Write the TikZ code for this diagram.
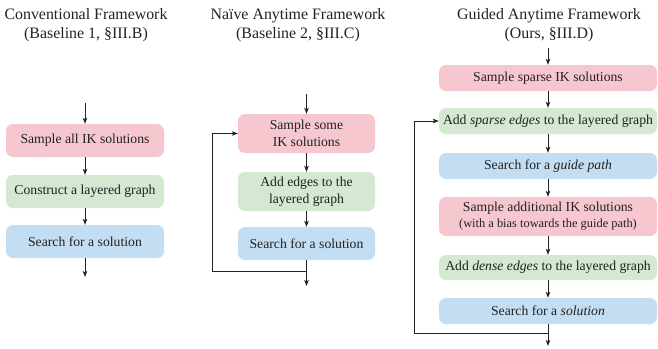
\documentclass[tikz,border=0pt]{standalone}
\usepackage{fontspec}
\setmainfont{Liberation Serif}
\usetikzlibrary{arrows.meta}
\definecolor{pinkbox}{HTML}{F7C7D0}
\definecolor{greenbox}{HTML}{D4E8D2}
\definecolor{bluebox}{HTML}{C3DEF3}
\definecolor{ink}{HTML}{222222}
\begin{document}
\begin{tikzpicture}[x=1pt,y=-1pt,
  box/.style={rounded corners=7pt, inner sep=0pt, align=center, text=ink,
    font=\fontsize{13.7}{17}\selectfont},
  pbox/.style={box, fill=pinkbox},
  gbox/.style={box, fill=greenbox},
  bbox/.style={box, fill=bluebox},
  title/.style={align=center, text=ink, font=\fontsize{15.9}{19}\selectfont},
  arr/.style={draw=ink, line width=0.8pt, -{Stealth[length=6pt,width=4.5pt,inset=1.5pt]}},
  ln/.style={draw=ink, line width=0.8pt}]
\useasboundingbox (0,0) rectangle (658,348);

% Column 1
\node[title] (t1) at (86,25.5) {Conventional Framework\\(Baseline 1, \S III.B)};
\node[pbox, minimum width=158pt, minimum height=33pt] (a1) at (85,140.5) {Sample all IK solutions};
\node[gbox, minimum width=158pt, minimum height=33pt] (a2) at (85,191.5) {Construct a layered graph};
\node[bbox, minimum width=158pt, minimum height=33pt] (a3) at (85,241.5) {Search for a solution};
\coordinate (a0) at (85,103);
\coordinate (a4) at (85,277);
\draw[arr] (a0) -- (a1.north);
\draw[arr] (a1.south) -- (a2.north);
\draw[arr] (a2.south) -- (a3.north);
\draw[arr] (a3.south) -- (a4);

% Column 2
\node[title] (t2) at (298,25.5) {Naïve Anytime Framework\\(Baseline 2, \S III.C)};
\node[pbox, minimum width=137pt, minimum height=39pt] (b1) at (306.5,133.5) {Sample some\\IK solutions};
\node[gbox, minimum width=137pt, minimum height=39pt] (b2) at (306.5,191.5) {Add edges to the\\layered graph};
\node[bbox, minimum width=137pt, minimum height=33pt] (b3) at (306.5,243.5) {Search for a solution};
\coordinate (b0) at (306.5,94);
\coordinate (b4) at (306.5,286);
\coordinate (bl) at (306.5,271);
\coordinate (bk) at (212,271);
\draw[arr] (b0) -- (b1.north);
\draw[arr] (b1.south) -- (b2.north);
\draw[arr] (b2.south) -- (b3.north);
\draw[arr] (b3.south) -- (b4);
\draw[arr] (bl) -- (bk) |- (b1.west);

% Column 3
\node[title] (t3) at (549,25.5) {Guided Anytime Framework\\(Ours, \S III.D)};
\node[pbox, minimum width=218pt, minimum height=26pt] (c1) at (548,78) {Sample sparse IK solutions};
\node[gbox, minimum width=218pt, minimum height=26pt] (c2) at (548,121) {Add \textit{sparse edges} to the layered graph};
\node[bbox, minimum width=218pt, minimum height=26pt] (c3) at (548,166) {Search for a \textit{guide path}};
\node[pbox, minimum width=218pt, minimum height=39pt] (c4) at (548,216.5) {Sample additional IK solutions\\[-1pt]{\fontsize{12.4}{15}\selectfont (with a bias towards the guide path)}};
\node[gbox, minimum width=218pt, minimum height=25pt] (c5) at (548,267.5) {Add \textit{dense edges} to the layered graph};
\node[bbox, minimum width=218pt, minimum height=26pt] (c6) at (548,311) {Search for a \textit{solution}};
\coordinate (c0) at (548,48);
\coordinate (c7) at (548,346);
\coordinate (cl) at (548,333);
\coordinate (ck) at (414,333);
\draw[arr] (c0) -- (c1.north);
\draw[arr] (c1.south) -- (c2.north);
\draw[arr] (c2.south) -- (c3.north);
\draw[arr] (c3.south) -- (c4.north);
\draw[arr] (c4.south) -- (c5.north);
\draw[arr] (c5.south) -- (c6.north);
\draw[arr] (c6.south) -- (c7);
\draw[arr] (cl) -- (ck) |- (c2.west);
\end{tikzpicture}
\end{document}
